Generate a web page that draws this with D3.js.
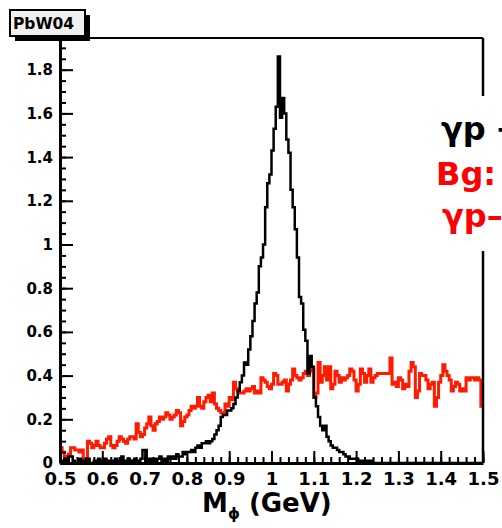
<!DOCTYPE html>
<html>
<head>
<meta charset="utf-8">
<script src="https://cdn.jsdelivr.net/npm/d3@7"></script>
<style>
  html, body { margin: 0; padding: 0; background: #fff; overflow: hidden; }
  text { font-family: "DejaVu Sans", sans-serif; font-weight: bold; }
</style>
</head>
<body>
<svg id="chart" width="502" height="528"></svg>
<script>
// Invariant-mass histograms, 0.5-1.5 GeV in 0.005 GeV bins
const massMin = 0.5;
const massMax = 1.5;
const binWidth = 0.005;

// gamma p -> phi p signal (black)
const signalCounts = [
  0.01,0,0.02,0,0.03,0.03,0.01,0,0,0.02, 0,0.01,0,0.02,0,0,0.01,0,0.02,0.01,
  0,0.02,0,0.01,0.01,0,0.02,0.01,0,0.03, 0,0.01,0.02,0,0.01,0.02,0,0.01,0.02,0.06,
  0.06,0.01,0.02,0,0.02,0.01,0.02,0.03,0.01,0.02, 0.01,0.03,0.02,0.03,0.02,0.04,0.03,0.03,0.05,0.04,
  0.05,0.05,0.06,0.05,0.07,0.08,0.07,0.09,0.09,0.10,
  0.09,0.10,0.11,0.13,0.15,0.17,0.21,0.22,0.22,0.24,
  0.24,0.25,0.27,0.30,0.33,0.37,0.40,0.46,0.45,0.52,
  0.58,0.65,0.73,0.78,0.90,0.94,1.00,1.17,1.28,1.32,
  1.43,1.53,1.63,1.86,1.58,1.67,1.60,1.48,1.42,1.25,
  1.17,1.07,0.94,0.76,0.73,0.61,0.56,0.41,0.49,0.44,
  0.30,0.26,0.21,0.17,0.15,0.17,0.12,0.10,0.08,0.07,
  0.07,0.06,0.05,0.05,0.04,0.03,0.03,0.02,0.02,0.02,
  0.02,0.01,0.01,0.01,0,0.01,0,0.01,0,0,
  0,0,0,0,0,0,0,0,0,0, 0,0,0,0,0,0,0,0,0,0,
  0,0,0,0,0,0,0,0,0,0, 0,0,0,0,0,0,0,0,0,0,
  0,0,0,0,0,0,0,0,0,0
];

// background (red)
const backgroundCounts = [
  0.07,0.05,0.03,0.03,0.04,0.07,0.07,0.06,0.06,0.05, 0.06,0.02,0.02,0.10,0.09,0.07,0.08,0.10,0.08,0.07,
  0.07,0.09,0.11,0.12,0.08,0.07,0.08,0.10,0.12,0.11, 0.10,0.09,0.11,0.12,0.12,0.11,0.18,0.14,0.12,0.13,
  0.16,0.18,0.21,0.17,0.15,0.18,0.19,0.21,0.20,0.21, 0.23,0.22,0.20,0.21,0.22,0.24,0.23,0.17,0.19,0.21,
  0.22,0.24,0.26,0.25,0.26,0.30,0.26,0.25,0.28,0.30, 0.31,0.28,0.32,0.27,0.25,0.24,0.23,0.23,0.27,0.26,
  0.30,0.29,0.37,0.34,0.33,0.32,0.32,0.33,0.34,0.33, 0.34,0.35,0.32,0.33,0.32,0.39,0.38,0.37,0.35,0.34,
  0.36,0.41,0.40,0.36,0.36,0.37,0.38,0.33,0.36,0.38, 0.43,0.40,0.39,0.38,0.39,0.41,0.42,0.40,0.42,0.43,
  0.30,0.32,0.46,0.37,0.40,0.44,0.38,0.44,0.34,0.36, 0.42,0.40,0.37,0.39,0.38,0.39,0.40,0.43,0.42,0.38,
  0.33,0.36,0.43,0.41,0.37,0.40,0.43,0.37,0.39,0.40, 0.41,0.41,0.41,0.41,0.41,0.41,0.48,0.36,0.37,0.35,
  0.39,0.38,0.34,0.36,0.35,0.42,0.46,0.44,0.30,0.33, 0.41,0.40,0.40,0.38,0.34,0.36,0.37,0.26,0.30,0.37,
  0.40,0.45,0.42,0.40,0.38,0.33,0.35,0.37,0.36,0.33, 0.34,0.33,0.39,0.38,0.39,0.39,0.38,0.39,0.38,0.26
];

const xTickValues = [0.5,0.6,0.7,0.8,0.9,1.0,1.1,1.2,1.3,1.4,1.5];
const xTickLabels = ["0.5","0.6","0.7","0.8","0.9","1","1.1","1.2","1.3","1.4","1.5"];
const yTickValues = [0,0.2,0.4,0.6,0.8,1.0,1.2,1.4,1.6,1.8];
const yTickLabels = ["0","0.2","0.4","0.6","0.8","1","1.2","1.4","1.6","1.8"];

const svg = d3.select("#chart");
const plotLeft = 60, plotRight = 483, plotTop = 38, plotBottom = 463;

const x = d3.scaleLinear().domain([massMin, massMax]).range([plotLeft, plotRight]);
const y = d3.scaleLinear().domain([0, 1.945]).range([plotBottom, plotTop]);

// step outline of a histogram
function stepPath(counts) {
  const p = d3.path();
  counts.forEach((v, i) => {
    const x0 = x(massMin + i * binWidth);
    const x1 = x(massMin + (i + 1) * binWidth);
    if (i === 0) p.moveTo(x0, y(v)); else p.lineTo(x0, y(v));
    p.lineTo(x1, y(v));
  });
  return p.toString();
}

svg.append("path")
  .attr("d", stepPath(backgroundCounts))
  .attr("fill", "none")
  .attr("stroke", "#ff1a00")
  .attr("stroke-width", 3);

svg.append("path")
  .attr("d", stepPath(signalCounts))
  .attr("fill", "none")
  .attr("stroke", "#000")
  .attr("stroke-width", 2.5);

// frame: top and right edges
svg.append("line").attr("x1", plotLeft).attr("x2", plotRight).attr("y1", plotTop).attr("y2", plotTop)
  .attr("stroke", "#000").attr("stroke-width", 2);
svg.append("line").attr("x1", plotRight).attr("x2", plotRight).attr("y1", plotTop).attr("y2", plotBottom)
  .attr("stroke", "#000").attr("stroke-width", 2.5);

// x axis: minor ticks every 0.02, major every 0.1
const xMinor = d3.range(0, 51).map(i => +(massMin + i * 0.02).toFixed(2));
svg.append("g").attr("transform", `translate(0,${plotBottom})`)
  .call(d3.axisBottom(x).tickValues(xMinor).tickSize(-6).tickSizeOuter(0).tickFormat(""))
  .call(g => g.select(".domain").remove())
  .call(g => g.selectAll("line").attr("stroke-width", 2));

const xAxis = svg.append("g").attr("transform", `translate(0,${plotBottom})`)
  .call(d3.axisBottom(x).tickValues(xTickValues).tickSize(-12).tickSizeOuter(0)
    .tickFormat((d, i) => xTickLabels[i]));
xAxis.select(".domain").attr("stroke-width", 3);
xAxis.selectAll("line").attr("stroke-width", 2);
xAxis.selectAll("text")
  .attr("y", 22).attr("dy", null)
  .attr("font-size", 18).attr("fill", "#000")
  .style("font-family", "DejaVu Sans").style("font-weight", "bold");

// y axis: minor ticks every 0.05, major every 0.2
const yMinor = d3.range(0, 39).map(i => +(i * 0.05).toFixed(2));
svg.append("g").attr("transform", `translate(${plotLeft},0)`)
  .call(d3.axisLeft(y).tickValues(yMinor).tickSize(-6).tickSizeOuter(0).tickFormat(""))
  .call(g => g.select(".domain").remove())
  .call(g => g.selectAll("line").attr("stroke-width", 2));

const yAxis = svg.append("g").attr("transform", `translate(${plotLeft},0)`)
  .call(d3.axisLeft(y).tickValues(yTickValues).tickSize(-13).tickSizeOuter(0)
    .tickFormat((d, i) => yTickLabels[i]));
yAxis.select(".domain").attr("stroke-width", 3);
yAxis.selectAll("line").attr("stroke-width", 2);
yAxis.selectAll("text")
  .attr("x", -7).attr("dy", "0.33em")
  .attr("font-size", 15).attr("fill", "#000")
  .style("font-family", "DejaVu Sans").style("font-weight", "bold");

// axis title
const xTitle = svg.append("text").attr("x", 202).attr("y", 512).attr("font-size", 26).attr("fill", "#000");
xTitle.append("tspan").text("M");
xTitle.append("tspan").attr("font-size", 15).attr("dy", 7).text("ϕ");
xTitle.append("tspan").attr("dy", -7).text(" (GeV)");

// legend panel (white fill, covers the frame edge)
svg.append("rect").attr("x", 428).attr("y", 96).attr("width", 80).attr("height", 155).attr("fill", "#fff");
svg.append("text").attr("x", 441).attr("y", 140).attr("font-size", 32).attr("fill", "#000").text("γp → ϕp");
svg.append("text").attr("x", 436).attr("y", 185).attr("font-size", 32).attr("fill", "#ff0000").text("Bg:");
svg.append("text").attr("x", 442).attr("y", 227).attr("font-size", 32).attr("fill", "#ff0000").text("γp–K⁺K⁻X");

// title box with drop shadow
svg.append("rect").attr("x", 15).attr("y", 15).attr("width", 75).attr("height", 26).attr("fill", "#000");
svg.append("rect").attr("x", 10).attr("y", 10).attr("width", 75).attr("height", 26)
  .attr("fill", "#f0f0f0").attr("stroke", "#000").attr("stroke-width", 2);
svg.append("text").attr("x", 13).attr("y", 29).attr("font-size", 15.5).attr("fill", "#000").text("PbW04");
</script>
</body>
</html>
